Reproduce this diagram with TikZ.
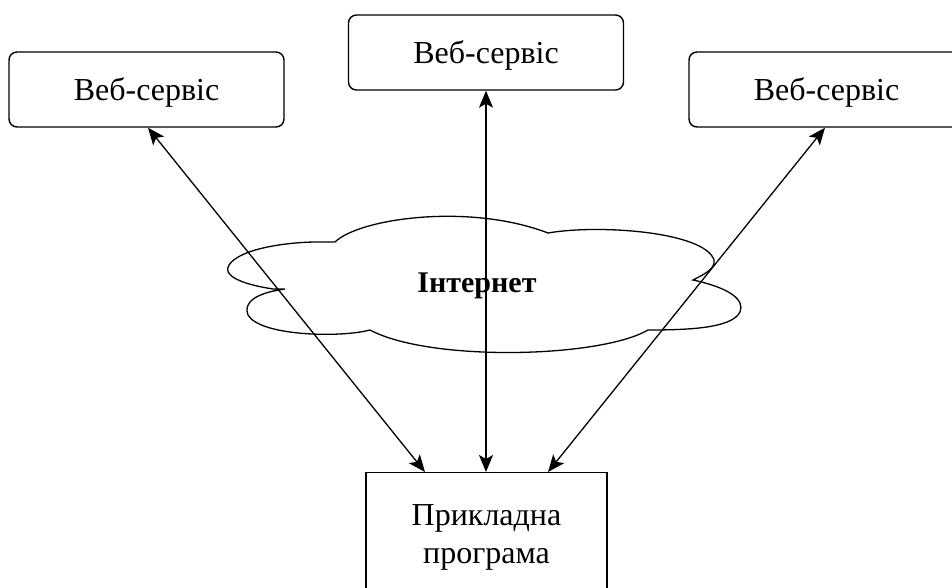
\documentclass[tikz,border=0pt]{standalone}
\usepackage{fontspec}
\setmainfont{Liberation Serif}
\usetikzlibrary{arrows.meta,calc}
\begin{document}
\begin{tikzpicture}[x=1pt,y=-1pt,
  svc/.style={draw,line width=1.4pt,rounded corners=8pt,minimum width=275pt,minimum height=75pt,font=\fontsize{32}{38}\selectfont,inner sep=0pt,text height=26pt,text depth=3pt},
  appbox/.style={draw,line width=1.4pt,minimum width=241pt,minimum height=140pt,inner sep=0pt},
  link/.style={line width=1.3pt,{Stealth[length=17pt,width=14pt,inset=4pt]}-{Stealth[length=17pt,width=14pt,inset=4pt]}},
  cloudline/.style={line width=1.3pt}]
\useasboundingbox (0,0) rectangle (952,588);
\begin{scope}
\clip (0,0) rectangle (952,588);
\node[svc] (ws1) at (146.5,89.5) {Веб-сервіс};
\node[svc] (ws2) at (486,52.5) {Веб-сервіс};
\node[svc] (ws3) at (826.5,89.5) {Веб-сервіс};
\node[appbox,anchor=north] (app) at (486.5,472) {};
\node[font=\fontsize{32}{38}\selectfont,align=center] (apptext) at (486.5,537) {Прикладна\\програма};
% cloud
\draw[cloudline] (335,242) .. controls (360,218) and (470,203) .. (548,233)
  .. controls (600,224) and (705,232) .. (714,260)
  .. controls (716,270) and (700,276) .. (693,280)
  .. controls (730,288) and (745,300) .. (740,312)
  .. controls (732,328) and (690,330) .. (648,330)
  .. controls (600,358) and (430,362) .. (370,330)
  .. controls (340,338) and (260,336) .. (248,315)
  .. controls (243,303) and (255,293) .. (285,289)
  -- (273,289)
  .. controls (240,284) and (222,275) .. (229,265)
  .. controls (240,248) and (290,242) .. (317,242) -- cycle;
\node[font=\bfseries\fontsize{30}{36}\selectfont] (net) at (477,286) {Інтернет};
\draw[link] ([xshift=1.5pt]ws1.south) -- ([xshift=-61.5pt]app.north);
\draw[link] (ws2.south) -- (app.north -| ws2.south);
\draw[link] ([xshift=-1.5pt]ws3.south) -- ([xshift=61.5pt]app.north);
\end{scope}
\end{tikzpicture}
\end{document}
